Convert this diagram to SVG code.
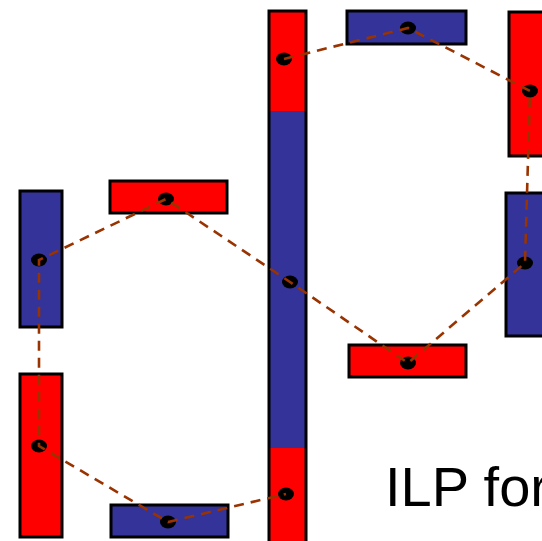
<svg xmlns="http://www.w3.org/2000/svg" width="542" height="541" viewBox="0 0 542 541">
  <style>
    .bar { stroke: #000; stroke-width: 3; }
    .red { fill: #FF0000; }
    .blue { fill: #333399; }
    .pin { fill: #000; }
    .wire { fill: none; stroke: #993300; stroke-width: 2.6; stroke-dasharray: 10 7; }
    .title { font-family: "Liberation Sans", Arial, sans-serif; font-size: 56px; fill: #000; }
  </style>
  <rect width="542" height="541" fill="#fff"/>

  <!-- long vertical bar in the middle -->
  <g id="trunk">
    <rect class="red" x="269" y="11" width="37" height="100"/>
    <rect class="blue" x="269" y="111" width="37" height="337"/>
    <rect class="red" x="269" y="448" width="37" height="100"/>
    <rect x="269" y="11" width="37" height="537" fill="none" class="bar"/>
  </g>

  <g id="top-blue"><rect class="bar blue" x="347" y="11" width="119" height="33"/></g>
  <g id="right-red"><rect class="bar red" x="509" y="12" width="40" height="144"/></g>
  <g id="right-blue"><rect class="bar blue" x="506" y="193" width="43" height="143"/></g>
  <g id="mid-red"><rect class="bar red" x="349" y="345" width="117" height="32"/></g>
  <g id="left-blue"><rect class="bar blue" x="20" y="191" width="42" height="136"/></g>
  <g id="upper-red"><rect class="bar red" x="110" y="181" width="117" height="32"/></g>
  <g id="left-red"><rect class="bar red" x="20" y="374" width="42" height="163"/></g>
  <g id="bottom-blue"><rect class="bar blue" x="111" y="505" width="117" height="32"/></g>

  <!-- pins -->
  <g id="pins">
    <ellipse class="pin" cx="284" cy="59" rx="8" ry="6.5"/>
    <ellipse class="pin" cx="408" cy="28" rx="8" ry="6.5"/>
    <ellipse class="pin" cx="530" cy="91" rx="8" ry="6.5"/>
    <ellipse class="pin" cx="525" cy="263" rx="8" ry="6.5"/>
    <ellipse class="pin" cx="408" cy="363" rx="8" ry="6.5"/>
    <ellipse class="pin" cx="290" cy="282" rx="8" ry="6.5"/>
    <ellipse class="pin" cx="166" cy="199" rx="8" ry="6.5"/>
    <ellipse class="pin" cx="39" cy="260" rx="8" ry="6.5"/>
    <ellipse class="pin" cx="39" cy="446" rx="8" ry="6.5"/>
    <ellipse class="pin" cx="168" cy="522" rx="8" ry="6.5"/>
    <ellipse class="pin" cx="286" cy="494" rx="8" ry="6.5"/>
  </g>

  <!-- dashed connections between pins -->
  <g id="connectors">
    <path class="wire" d="M284,59 L408,28 L530,91 L525,263 L408,363 L290,282 L166,199 L39,260 L39,446 L168,522 L286,494"/>
  </g>

  <text class="title" x="385" y="506">ILP for</text>
</svg>
